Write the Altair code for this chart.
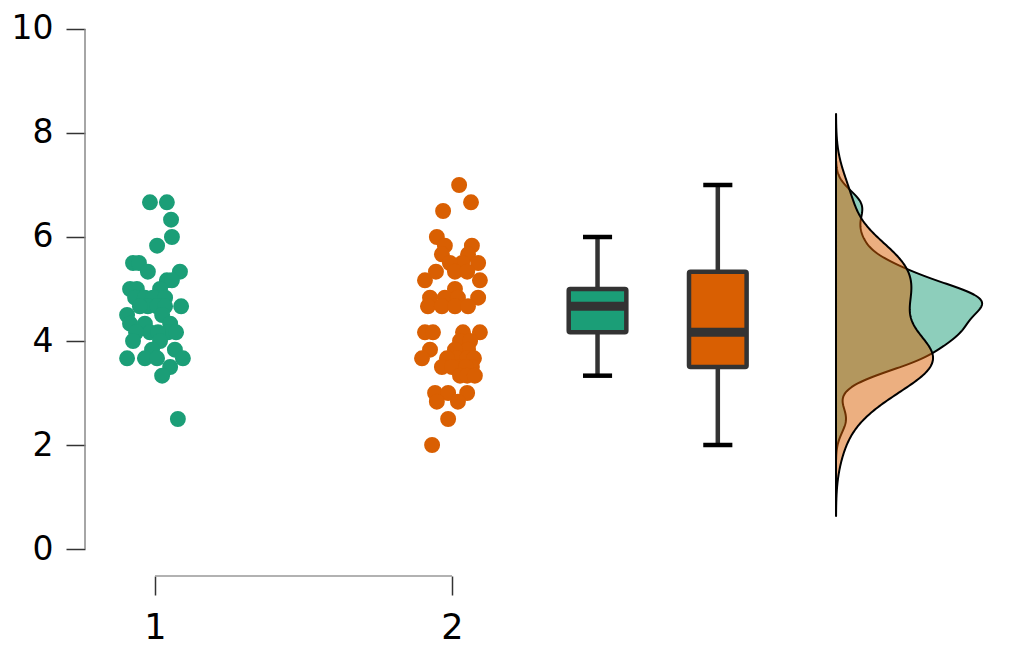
import altair as alt
import pandas as pd
import numpy as np

# ---------------- data ----------------
groups = ["1", "2"]
group_pos = [1, 2]
colors = ["#1B9E77", "#D95F02"]

g1_values = [6.667, 6.667, 6.333, 6.0, 5.833, 5.5, 5.5, 5.333, 5.333, 5.167, 5.167,
             5.0, 5.0, 5.0, 4.833, 4.833, 4.833, 4.833, 4.833, 4.667, 4.667, 4.667, 4.667, 4.667,
             4.5, 4.5, 4.333, 4.333, 4.333, 4.167, 4.167, 4.167, 4.167, 4.167,
             4.0, 4.0, 3.833, 3.833, 3.667, 3.667, 3.667, 3.667, 3.5, 3.333, 2.5]
g1_jitter = [-0.017, 0.040, 0.054, 0.057, 0.007, -0.074, -0.054, -0.024, 0.084, 0.040, 0.057,
             -0.084, -0.061, 0.017, 0.003, -0.067, -0.034, -0.007, 0.034, -0.024, 0.007, 0.034, 0.088, -0.051,
             -0.094, 0.024, -0.084, -0.034, 0.051, -0.017, 0.044, 0.010, -0.064, 0.071,
             -0.074, 0.017, -0.010, 0.067, -0.094, -0.034, 0.007, 0.094, 0.051, 0.024, 0.077]

g2_values = [7.0, 6.667, 6.5, 6.0, 5.833, 5.833, 5.667, 5.667, 5.5, 5.5, 5.5,
             5.333, 5.333, 5.333, 5.167, 5.167, 5.0, 4.833, 4.833, 4.833, 4.833,
             4.667, 4.667, 4.667, 4.667, 4.167, 4.167, 4.167, 4.167, 4.0, 4.0,
             3.833, 3.833, 3.833, 3.667, 3.667, 3.667, 3.667, 3.667,
             3.5, 3.5, 3.5, 3.5, 3.5, 3.333, 3.333, 3.333, 3.0, 3.0, 3.0,
             2.833, 2.833, 2.5, 2.0]
g2_jitter = [0.024, 0.064, -0.030, -0.051, -0.024, 0.067, -0.034, 0.054, 0.088, 0.034, -0.007,
             -0.054, 0.010, 0.051, -0.091, 0.094, 0.010, -0.074, -0.024, 0.020, 0.088,
             -0.081, -0.034, 0.010, 0.054, -0.091, -0.064, 0.037, 0.094, 0.027, 0.061,
             -0.074, 0.054, 0.010, -0.101, 0.017, 0.051, 0.074, -0.017,
             -0.034, 0.027, 0.067, 0.000, 0.047, 0.027, 0.051, 0.077, -0.057, -0.013, 0.051,
             -0.051, 0.020, -0.013, -0.067]

# box-plot summary
box_pos = [2.49, 2.895]
box_min = [3.333, 2.0]
box_q1 = [4.167, 3.5]
box_median = [4.667, 4.167]
box_q3 = [5.0, 5.333]
box_max = [6.0, 7.0]

density_base = 3.293
box_half = 0.097
cap_half = 0.049

# ---------------- tables ----------------
pts = pd.DataFrame({
    "group": ["1"] * len(g1_values) + ["2"] * len(g2_values),
    "value": g1_values + g2_values,
    "jitter": g1_jitter + g2_jitter,
})
pts["x"] = pts["group"].map(dict(zip(groups, group_pos))) + pts["jitter"]

box = pd.DataFrame({
    "group": groups, "pos": box_pos, "lo": box_min, "q1": box_q1,
    "med": box_median, "q3": box_q3, "hi": box_max,
})
box["left"] = box["pos"] - box_half
box["right"] = box["pos"] + box_half
box["cl"] = box["pos"] - cap_half
box["cr"] = box["pos"] + cap_half

axis_lines = pd.DataFrame({"x0": [1], "x1": [2], "y0": [0], "y1": [10]})

# ---------------- scales / axes ----------------
xscale = alt.Scale(domain=[0.7643, 3.8620], nice=False, zero=False)
yscale = alt.Scale(domain=[-0.5192, 10.2115], nice=False, zero=False)
FONT = "DejaVu Sans"
xaxis = alt.Axis(values=[1, 2], format="d", domain=False, grid=False, title=None,
                 tickSize=19, tickWidth=1.5, tickColor="#333333",
                 labelFont=FONT, labelFontSize=35, labelColor="black", labelPadding=15)
yaxis = alt.Axis(values=[0, 2, 4, 6, 8, 10], domain=False, grid=False, title=None,
                 tickSize=19, tickWidth=1.5, tickColor="#333333",
                 labelFont=FONT, labelFontSize=33, labelColor="black", labelPadding=13)


def X(f):
    return alt.X(f, type="quantitative", scale=xscale, axis=xaxis)


def Y(f):
    return alt.Y(f, type="quantitative", scale=yscale, axis=yaxis)


color = alt.Color("group:N", scale=alt.Scale(domain=groups, range=colors), legend=None)

# ---------------- layers ----------------
points = alt.Chart(pts).mark_circle(size=254, opacity=1).encode(
    x=X("x"), y=Y("value"), color=color)

whisk_up = alt.Chart(box).mark_rule(color="#333333", strokeWidth=4.5).encode(
    x=X("pos"), y=Y("q3"), y2="hi")
whisk_dn = alt.Chart(box).mark_rule(color="#333333", strokeWidth=4.5).encode(
    x=X("pos"), y=Y("lo"), y2="q1")
boxes = alt.Chart(box).mark_bar(stroke="#333333", strokeWidth=4.5, cornerRadius=1.5).encode(
    x=X("left"), x2="right", y=Y("q1"), y2="q3", color=color)
medians = alt.Chart(box).mark_rule(color="#333333", strokeWidth=9).encode(
    x=X("left"), x2="right", y=Y("med"))
cap_hi = alt.Chart(box).mark_rule(color="black", strokeWidth=4.5).encode(
    x=X("cl"), x2="cr", y=Y("hi"))
cap_lo = alt.Chart(box).mark_rule(color="black", strokeWidth=4.5).encode(
    x=X("cl"), x2="cr", y=Y("lo"))


def nrd0(v):
    v = np.asarray(v, dtype=float)
    sd = v.std(ddof=1)
    iqr = np.subtract(*np.percentile(v, [75, 25]))
    return 0.9 * min(sd, iqr / 1.34) * len(v) ** -0.2


def kde_peak(v, bw):
    v = np.asarray(v, dtype=float)
    grid = np.linspace(v.min() - 3 * bw, v.max() + 3 * bw, 1024)
    d = np.exp(-0.5 * ((grid[:, None] - v[None, :]) / bw) ** 2).sum(1) / (len(v) * bw * np.sqrt(2 * np.pi))
    return d.max()


bw1, bw2 = nrd0(g1_values), nrd0(g2_values)
scale_k = 0.492 / kde_peak(g1_values, bw1)


def density_layer(vals, bw, col):
    df = pd.DataFrame({"value": vals})
    lo, hi = min(vals) - 3 * bw, max(vals) + 3 * bw
    return alt.Chart(df).transform_density(
        "value", as_=["value", "density"], bandwidth=bw, extent=[lo, hi], steps=300
    ).transform_calculate(
        dx=f"{density_base} + datum.density * {scale_k}", base=f"{density_base}"
    ).mark_area(orient="horizontal", fill=col, fillOpacity=0.5, stroke="black",
                strokeWidth=2, strokeJoin="round").encode(
        y=Y("value"), x=X("dx"), x2="base:Q")


dens1 = density_layer(g1_values, bw1, colors[0])
dens2 = density_layer(g2_values, bw2, colors[1])

yline = alt.Chart(axis_lines).mark_rule(color="#888888", strokeWidth=1.5).encode(
    x=alt.value(0), y=Y("y0"), y2="y1")
xline = alt.Chart(axis_lines).mark_rule(color="#999999", strokeWidth=1.5).encode(
    x=X("x0"), x2="x1", y=alt.value(558))

chart = alt.layer(
    yline, xline, points, whisk_up, whisk_dn, boxes, medians, cap_hi, cap_lo, dens1, dens2
).properties(
    width=920, height=558,
    padding={"left": 77, "top": 10, "right": 10, "bottom": 80},
    autosize=alt.AutoSizeParams(type="none"),
).configure_view(stroke=None)

chart.save("out.html", embed_options={"renderer": "svg", "actions": False})
